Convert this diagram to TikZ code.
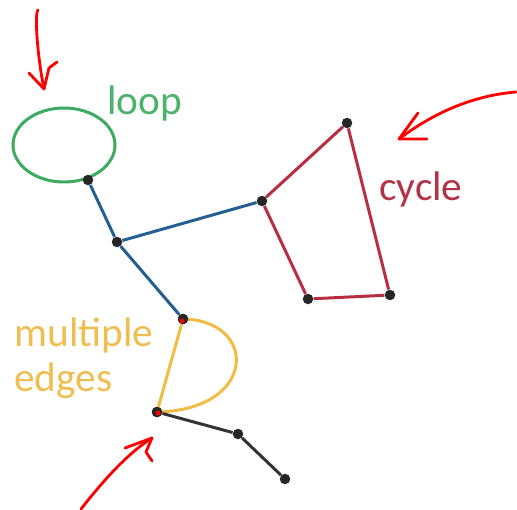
\documentclass[tikz,border=0pt]{standalone}
\usepackage{fontspec}
\setmainfont{Carlito}
\begin{document}
\begin{tikzpicture}[x=0.02cm,y=-0.02cm,
  vtx/.style={circle,fill=black!85,inner sep=0pt,minimum size=10.5*0.02cm},
  blueedge/.style={draw={rgb,255:red,35;green,95;blue,145},line width=1.7pt},
  rededge/.style={draw={rgb,255:red,185;green,45;blue,65},line width=1.7pt},
  yelledge/.style={draw={rgb,255:red,240;green,188;blue,65},line width=1.7pt},
  blkedge/.style={draw=black!80,line width=1.7pt},
  lbl/.style={font=\fontsize{23.5}{26}\selectfont,inner sep=0pt,anchor=base west},
  pen/.style={draw=red,line width=1.6pt,line cap=round,line join=round}]
\useasboundingbox (0,0) rectangle (517,510);
% loop
\draw[draw={rgb,255:red,60;green,170;blue,95},line width=1.7pt] (64,145) ellipse [x radius=51,y radius=37];
% vertices
\node[vtx] (a) at (88,180) {};
\node[vtx] (b) at (117,242) {};
\node[vtx] (c) at (262,201) {};
\node[vtx] (d) at (347,123) {};
\node[vtx] (e) at (390,295) {};
\node[vtx] (f) at (308,299) {};
\node[vtx] (g) at (183,319) {};
\node[vtx] (h) at (157,412) {};
\node[vtx] (i) at (238,434) {};
\node[vtx] (j) at (285,479) {};
% edges
\path[blueedge] (a) -- (b) (b) -- (c) (b) -- (g);
\path[rededge] (c) -- (d) -- (e) -- (f) -- (c);
\path[yelledge] (g) -- (h);
\path[yelledge] (g.center) .. controls (258,320) and (258,410) .. (h.center);
\path[blkedge] (h) -- (i) -- (j);
\node[vtx] at (g) {};
\node[vtx] at (h) {};
\fill[red] (g) ++(-1,2) circle (2.5);
\fill[red] (h) ++(1,1) circle (2.5);
% labels
\node[lbl,text={rgb,255:red,75;green,178;blue,105}] (tloop) at (107,114) {loop};
\node[lbl,text={rgb,255:red,180;green,50;blue,70}] (tcycle) at (379,200) {cycle};
\node[lbl,text={rgb,255:red,240;green,190;blue,80}] (tmult) at (14,346) {multiple};
\node[lbl,text={rgb,255:red,240;green,190;blue,80}] (tedges) at (14,391) {edges};
% red pen arrows
\coordinate (p1s) at (38,10);
\coordinate (p1e) at (44,89);
\draw[pen] (p1s) .. controls (34,14) and (38,60) .. (p1e);
\draw[pen] (29,73) -- (p1e) -- (49,68) -- (57,62);
\coordinate (p2s) at (516,92);
\coordinate (p2e) at (399,139);
\draw[pen] (p2s) .. controls (480,95) and (440,108) .. (p2e);
\draw[pen] (418,113) -- (p2e) -- (427,139);
\coordinate (p3s) at (81,509);
\coordinate (p3e) at (152,438);
\draw[pen] (p3s) .. controls (100,485) and (125,455) .. (p3e);
\draw[pen] (125,448) -- (p3e) -- (146,452) -- (152,461);
\end{tikzpicture}
\end{document}
